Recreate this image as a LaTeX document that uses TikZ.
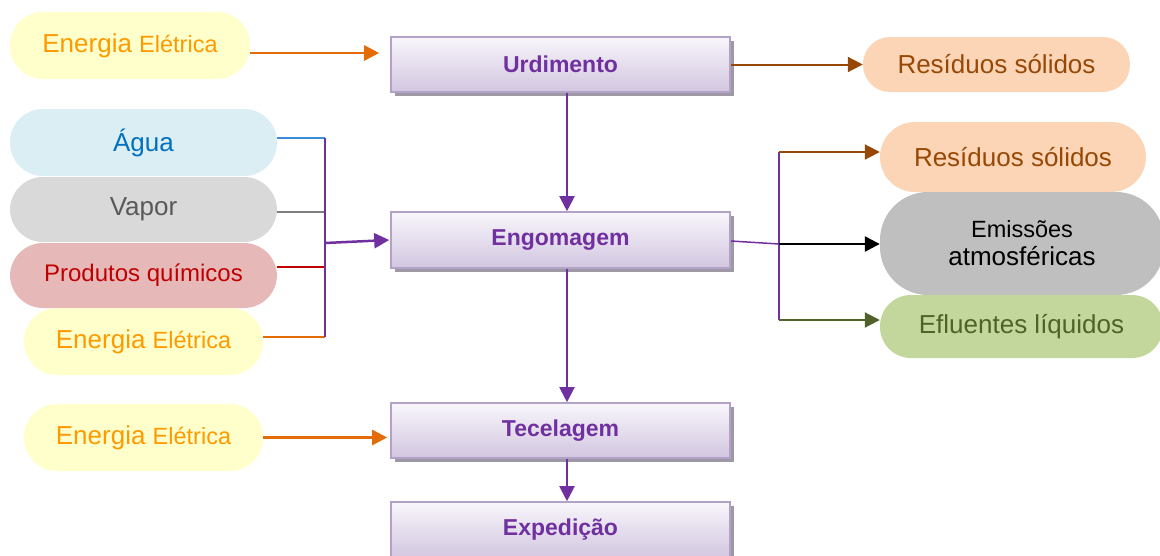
\documentclass[tikz,border=0pt]{standalone}
\usepackage{fontspec}
\setmainfont{Liberation Sans}
\usetikzlibrary{arrows.meta,calc}

\definecolor{purp}{HTML}{7030A0}
\definecolor{boxtop}{HTML}{F8F6FB}
\definecolor{boxbot}{HTML}{D2C6E0}
\definecolor{boxline}{HTML}{B3A2C7}
\definecolor{boxshadow}{HTML}{9E98A6}
\definecolor{yfill}{HTML}{FFFFCC}
\definecolor{ytext}{HTML}{FF9900}
\definecolor{orng}{HTML}{E36C09}
\definecolor{bfill}{HTML}{DBEEF3}
\definecolor{btext}{HTML}{0070C0}
\definecolor{bline}{HTML}{3A8DD6}
\definecolor{gfill}{HTML}{D9D9D9}
\definecolor{gtext}{HTML}{595959}
\definecolor{gline}{HTML}{7F7F7F}
\definecolor{rfill}{HTML}{E6B9B8}
\definecolor{rtext}{HTML}{C00000}
\definecolor{pfill}{HTML}{FBD5B5}
\definecolor{brwn}{HTML}{974806}
\definecolor{efill}{HTML}{BFBFBF}
\definecolor{lfill}{HTML}{C3D69B}
\definecolor{ltext}{HTML}{4F6228}

\tikzset{
  stagebox/.style={draw=boxline, line width=1.6pt, top color=boxtop, bottom color=boxbot,
    minimum width=339pt, minimum height=55pt, inner sep=0pt, text=purp,
    font=\fontsize{23}{27}\selectfont\bfseries,
    preaction={fill=boxshadow, transform canvas={xshift=3.5pt, yshift=-3.5pt}}},
  pill/.style={inner sep=0pt, rounded corners=33pt, minimum height=67pt,
    font=\fontsize{26}{30}\selectfont, align=center},
  tip/.style={-{Triangle[length=15pt,width=15pt]}},
  flow/.style={tip, draw=purp, fill=purp, line width=2pt},
  feed/.style={line width=1.5pt}
}

\begin{document}
\begin{tikzpicture}[x=1pt, y=-1pt]
\useasboundingbox (0,0) rectangle (1160,555);

% process stages
\node[stagebox] (urd) at (560.5,64.5) {Urdimento};
\node[stagebox, minimum height=56pt] (eng) at (560.5,240) {Engomagem};
\node[stagebox] (tec) at (560.5,430.5) {Tecelagem};
\node[stagebox, minimum height=56pt] (exp) at (560.5,530) {Expedição};

% inputs
\node[pill, fill=yfill, text=ytext, minimum width=240pt] (en1) at (130,45.5)
  {Energia {\fontsize{23.5}{27}\selectfont Elétrica}};
\node[pill, fill=bfill, text=btext, minimum width=267pt] (agua) at (143.5,142.5) {Água};
\node[pill, fill=gfill, text=gtext, minimum width=267pt, minimum height=65pt] (vap) at (143.5,209.5) {Vapor};
\node[pill, fill=rfill, text=rtext, minimum width=267pt, minimum height=65pt,
  font=\fontsize{24}{28}\selectfont] (prod) at (143.5,275.5) {Produtos químicos};
\node[pill, fill=yfill, text=ytext, minimum width=239pt] (en2) at (143.5,341.5)
  {Energia {\fontsize{23.5}{27}\selectfont Elétrica}};
\node[pill, fill=yfill, text=ytext, minimum width=239pt] (en3) at (143.5,437.5)
  {Energia {\fontsize{23.5}{27}\selectfont Elétrica}};

% outputs
\node[pill, fill=pfill, text=brwn, minimum width=267pt, minimum height=55pt,
  rounded corners=27pt] (res1) at (996.5,64.5) {Resíduos sólidos};
\node[pill, fill=pfill, text=brwn, minimum width=266pt, minimum height=70pt,
  rounded corners=35pt] (res2) at (1013,157) {Resíduos sólidos};
\node[pill, fill=efill, text=black, minimum width=284pt, minimum height=103pt,
  rounded corners=48pt] (emi) at (1022,243.5)
  {{\fontsize{23.5}{27}\selectfont Emissões}\\[-2pt]atmosféricas};
\node[pill, fill=lfill, text=ltext, minimum width=283pt, minimum height=63pt,
  rounded corners=31pt] (efl) at (1021.5,326.5) {Efluentes líquidos};

% junction points
\coordinate (jl) at (325,243);
\coordinate (jr) at (779,244);

% main flow
\draw[flow] ([xshift=6.5pt]urd.south) -- ([xshift=6.5pt]eng.north);
\draw[flow] ([xshift=6.5pt]eng.south) -- ([xshift=6.5pt]tec.north);
\draw[flow] ([xshift=6.5pt]tec.south) -- ([xshift=6.5pt]exp.north);

% energy into warping and weaving
\draw[tip, draw=orng, fill=orng, line width=2.5pt]
  ([yshift=-7.5pt]en1.east) -- ([yshift=-7.5pt, xshift=-11pt]en1.east -| urd.west);
\draw[tip, draw=orng, fill=orng, line width=2.5pt]
  (en3.east) -- ([xshift=-3pt]en3.east -| tec.west);

% inputs into sizing
\draw[feed, bline] ([yshift=4.5pt]agua.east) -- ([yshift=4.5pt]agua.east -| jl);
\draw[feed, gline] ([yshift=-2.5pt]vap.east) -- ([yshift=-2.5pt]vap.east -| jl);
\draw[feed, rtext] ([yshift=8.5pt]prod.east) -- ([yshift=8.5pt]prod.east -| jl);
\draw[feed, orng] ([yshift=4.5pt]en2.east) -- ([yshift=4.5pt]en2.east -| jl);
\draw[feed, purp] ([yshift=4.5pt]agua.east -| jl) -- ([yshift=4.5pt]en2.east -| jl);
\draw[flow, line width=2.5pt] (jl) -- ([xshift=-1pt]eng.west);

% outputs of warping and sizing
\draw[tip, draw=brwn, fill=brwn, line width=2pt] (urd.east) -- (res1.west);
\draw[feed, purp] ([yshift=-1pt]eng.east) -- (jr);
\draw[feed, purp] ([yshift=5pt]res2.west -| jr) -- ([yshift=6.5pt]efl.west -| jr);
\draw[tip, draw=brwn, fill=brwn, line width=2pt] ([yshift=5pt]res2.west -| jr) -- ([yshift=5pt]res2.west);
\draw[tip, draw=black, fill=black, line width=2.5pt] (jr) -- (jr -| emi.west);
\draw[tip, draw=ltext, fill=ltext, line width=2pt] ([yshift=6.5pt]efl.west -| jr) -- ([yshift=6.5pt]efl.west);
\end{tikzpicture}
\end{document}
